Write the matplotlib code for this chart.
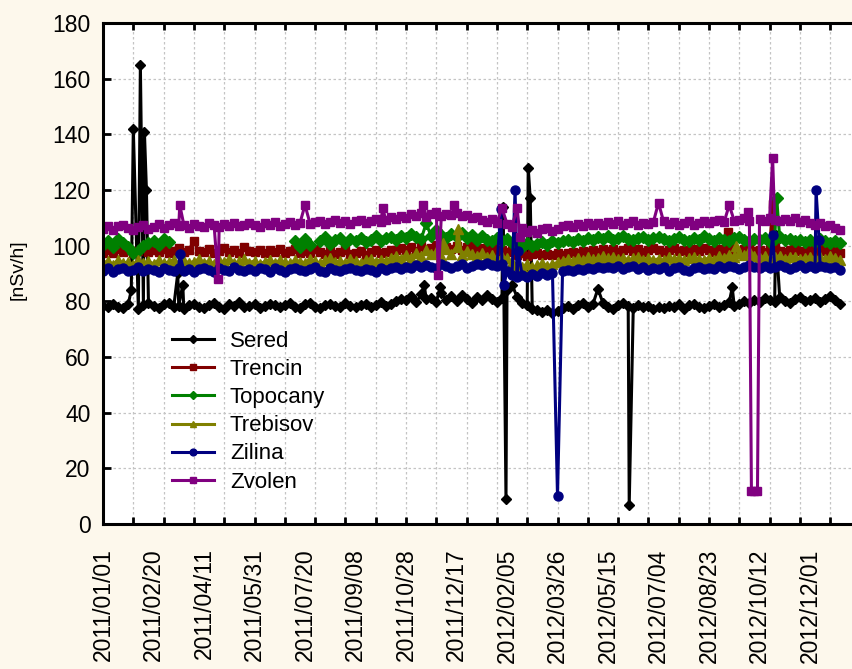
import numpy as np
import matplotlib
matplotlib.use("Agg")
import matplotlib.pyplot as plt
from matplotlib.ticker import MultipleLocator, NullFormatter

plt.rcParams['font.family'] = ['Liberation Sans', 'DejaVu Sans']

nan = float('nan')

# Daily dose-rate readings [nSv/h], sampled every 5 days from 2011/01/01 (day 0)
SAMPLE_STEP = 5

SERED = [
    78.5, 77.8, 79.2, 78.0, 77.5, 79.0, 78.3, 77.2, 78.8, 79.5,
    78.2, 77.6, 78.9, 79.4, 77.9, 78.4, 77.3, 78.7, 79.1, 78.0,
    77.5, 78.6, 79.3, 78.1, 77.4, 78.9, 78.2, 79.6, 77.8, 78.5,
    79.0, 77.7, 78.3, 79.2, 78.6, 77.9, 78.8, 79.4, 78.1, 77.6,
    78.9, 79.3, 78.0, 77.5, 78.7, 79.1, 78.4, 77.8, 79.5, 78.2,
    77.9, 78.8, 79.2, 78.1, 78.6, 79.7, 78.3, 79.0, 80.2, 81.0,
    80.4, 81.8, 79.6, 82.5, 80.8, 81.3, 79.9, 83.0, 80.6, 81.9,
    80.2, 82.4, 81.0, 79.5, 81.6, 80.3, 82.1, 80.7, 79.8, 81.2,
    84.0, 86.0, 81.5, 79.5, 78.6, 77.4, 77.0, 76.3, 76.8, 75.9,
    76.7, 77.5, 78.4, 77.1, 78.6, 79.3, 77.8, 78.9, 78.2, 79.4,
    78.0, 77.3, 78.7, 79.5, 78.3, 77.6, 78.8, 77.9, 78.4, 77.2,
    78.1, 77.5, 78.3, 77.8, 78.9, 77.4, 78.6, 79.1, 78.0, 77.7,
    78.5, 79.2, 78.1, 78.8, 79.6, 78.3, 79.0, 80.1, 79.4, 80.5,
    79.8, 81.2, 80.4, 79.6, 81.5, 80.2, 79.3, 80.9, 81.7, 80.0,
    80.6, 81.3, 79.8, 80.9, 82.0, 80.4, 79.2,
]
SERED_EXTRA_DAYS = [28, 30, 37, 41, 43, 74, 79, 318, 334, 396, 399, 421, 423, 490, 521, 623, 666]
SERED_EXTRA_VALS = [84, 142, 165, 141, 120, 90, 86, 86, 85, 114, 9, 128, 117, 84.5, 7, 85, 104]

TRENCIN = [
    97.5, 98.3, 97.2, 98.8, 97.9, 98.5, 97.3, 98.1, 99.0, 97.6,
    98.4, 97.8, 98.9, 97.4, 98.2, 99.3, 97.7, 98.6, 101.5, 98.0,
    97.6, 98.7, 97.3, 98.2, 99.1, 97.8, 98.4, 97.5, 99.6, 98.1,
    97.9, 98.6, 97.4, 98.3, 97.7, 98.9, 97.2, 98.0, 98.7, 97.5,
    98.2, 97.3, 98.8, 97.6, 97.1, 98.4, 96.9, 97.8, 98.3, 97.0,
    97.4, 98.1, 96.8, 97.7, 98.5, 97.2, 97.9, 98.6, 98.3, 99.2,
    98.6, 99.5, 98.2, 99.9, 98.8, 99.3, 100.4, 98.7, 99.6, 98.9,
    99.8, 98.5, 99.4, 100.2, 98.8, 99.0, 98.3, 99.1, 97.9, 98.6,
    97.8, 98.4, 96.8, 97.3, 96.2, 96.9, 97.4, 96.5, 97.1, 96.8,
    97.2, 96.6, 97.5, 97.9, 97.3, 98.0, 97.6, 98.4, 97.8, 98.7,
    98.2, 98.9, 97.9, 98.5, 99.2, 98.1, 98.7, 97.8, 98.4, 99.0,
    98.3, 97.7, 98.6, 99.1, 98.0, 98.5, 97.9, 98.8, 98.2, 99.3,
    98.4, 97.8, 98.9, 98.1, 99.0, 98.3, 97.6, 98.7, 99.2, 98.0,
    98.5, 97.9, 98.8, 99.4, 98.2, 97.7, 98.6, 99.0, 98.1, 97.8,
    98.4, 97.6, 98.9, 98.0, 97.5, 98.3, 97.4,
]
TRENCIN_EXTRA_DAYS = [619, 663]
TRENCIN_EXTRA_VALS = [105, 115]

TOPOCANY = [
    100.2, 101.5, 99.6, 102.3, 100.8, 99.4, 97.5, 98.2, 99.8, 100.9,
    101.6, 100.3, 102.5, 101.2, nan, nan, nan, nan, nan, nan,
    nan, nan, nan, nan, nan, nan, nan, nan, nan, nan,
    nan, nan, nan, nan, nan, nan, nan, nan, 101.8, 99.6,
    102.5, 100.3, nan, 101.7, 103.0, 100.6, 101.9, 102.7, 101.1, 102.4,
    101.5, 102.9, 101.3, 102.2, 103.4, 101.8, 102.6, 103.1, 102.0, 103.5,
    102.8, 104.1, 103.0, 102.4, 104.6, 103.3, 105.8, 103.9, 102.7, 104.2,
    103.1, 104.5, 102.6, 103.8, 102.2, 103.4, 102.0, 101.5, 102.7, 101.8,
    102.3, 101.0, 100.4, 99.6, 100.8, 99.9, 100.6, 101.2, 100.2, 101.5,
    100.8, 101.6, 102.0, 101.3, 102.4, 101.8, 102.9, 102.2, 103.1, 102.5,
    103.3, 102.1, 102.8, 103.6, 102.4, 101.9, 102.7, 103.2, 102.0, 102.6,
    103.0, 102.3, 101.7, 102.5, 103.1, 102.2, 101.6, 102.8, 102.1, 103.3,
    102.4, 101.8, 102.9, 102.2, 101.5, 102.6, 103.0, 102.1, 101.7, 102.5,
    102.0, 102.7, 101.4, 102.3, 103.0, 101.9, 102.5, 101.6, 102.2, 101.3,
    101.9, 101.2, 102.4, 101.5, 100.8, 101.7, 101.0,
]
TOPOCANY_EXTRA_DAYS = [320, 667]
TOPOCANY_EXTRA_VALS = [108, 117]

TREBISOV = [
    93.8, 94.5, 93.2, 94.9, 93.6, 94.2, 93.0, 94.7, 93.9, 94.4,
    93.5, 94.8, 93.7, 94.1, 95.0, 93.4, 94.6, 93.9, 94.3, 95.2,
    93.8, 94.5, 93.3, 94.9, 94.0, 95.3, 93.7, 94.4, 95.1, 93.9,
    94.6, 93.5, 94.2, 95.0, 93.8, 94.7, 94.1, 93.6, 94.9, 94.3,
    93.9, 95.2, 94.4, 93.7, 94.8, 95.4, 94.0, 94.6, 93.8, 95.1,
    94.5, 93.9, 94.8, 95.3, 94.2, 95.0, 94.6, 95.5, 96.4, 95.3,
    96.8, 95.6, 97.5, 96.2, 98.4, 96.9, 97.8, 96.3, 98.9, 97.1,
    99.5, 96.8, 98.1, 97.0, 96.2, 97.4, 95.8, 96.5, 95.3, 96.0,
    95.4, 94.2, 93.1, 92.5, 93.4, 92.2, 92.9, 93.6, 92.7, 93.3,
    94.0, 94.6, 95.2, 94.5, 95.6, 94.9, 95.8, 95.1, 95.5, 96.2,
    95.4, 96.0, 95.2, 95.7, 94.9, 95.5, 96.1, 95.0, 95.6, 94.8,
    95.3, 94.7, 95.9, 95.1, 95.6, 94.9, 95.4, 96.0, 95.2, 94.8,
    95.7, 95.0, 96.3, 95.5, 96.8, 95.9, 97.4, 96.5, 98.0, 96.2,
    95.6, 96.3, 95.1, 95.8, 96.4, 95.3, 95.9, 96.1, 95.2, 95.7,
    96.0, 95.4, 95.9, 95.2, 96.3, 95.6, 94.8,
]
TREBISOV_EXTRA_DAYS = [337, 351, 627]
TREBISOV_EXTRA_VALS = [101, 106, 100]

ZILINA = [
    91.0, 91.8, 90.6, 91.5, 92.0, 90.8, 91.3, 92.2, 90.9, 91.6,
    91.2, 90.5, 91.9, 91.4, 90.8, 92.1, 91.0, 91.7, 90.7, 91.5,
    92.0, 91.1, 90.6, 91.8, 91.3, 90.9, 92.3, 91.4, 90.8, 91.7,
    91.0, 92.1, 91.5, 90.7, 91.9, 91.2, 90.6, 91.6, 92.0, 91.1,
    90.8, 91.5, 92.2, 91.0, 90.7, 91.8, 91.3, 90.9, 91.6, 92.0,
    91.2, 90.8, 91.7, 91.4, 90.6, 91.9, 91.1, 91.8, 92.3, 91.6,
    92.4, 91.8, 92.9, 92.2, 93.1, 92.5, 91.9, 93.3, 92.6, 92.0,
    92.8, 93.4, 92.1, 92.7, 93.5, 92.9, 93.8, 93.1, 92.6, 93.3,
    90.8, 89.6, 88.7, 89.4, 88.9, 89.8, 89.2, 90.0, 89.5, 90.3,
    89.9, 90.8, 91.4, 90.9, 91.7, 91.2, 92.0, 91.5, 92.3, 91.8,
    92.5, 91.9, 92.7, 91.6, 92.2, 92.8, 91.7, 92.4, 91.3, 92.0,
    91.6, 92.3, 91.0, 91.8, 92.5, 91.4, 90.8, 91.9, 92.2, 91.5,
    92.1, 91.7, 92.6, 91.9, 92.8, 92.2, 91.6, 92.5, 93.0, 92.3,
    92.0, 92.7, 91.8, 92.4, 93.1, 92.2, 91.7, 92.5, 92.9, 92.1,
    92.6, 92.0, 92.8, 92.3, 91.9, 92.5, 91.4,
]
ZILINA_EXTRA_DAYS = [76, 394, 397, 408, 411, 450, 663, 706, 709]
ZILINA_EXTRA_VALS = [97, 113, 86, 120, 98, 10, 104, 120, 102]

ZVOLEN = [
    106.0, 107.2, 105.8, 106.9, 107.5, 106.3, 105.6, 106.8, 107.4, 106.1,
    106.7, 107.9, 106.4, 107.3, 108.0, 106.9, 107.6, 106.5, 107.8, 107.1,
    106.8, 108.1, 107.3, 106.6, 107.9, 107.2, 108.3, 106.9, 107.6, 108.2,
    107.4, 106.8, 108.0, 107.5, 108.4, 107.1, 107.8, 108.6, 107.3, 108.1,
    109.2, 107.9, 108.6, 109.0, 107.8, 108.5, 109.3, 108.1, 108.8, 107.9,
    108.7, 109.4, 108.2, 108.9, 109.6, 108.4, 109.1, 110.2, 109.5, 110.8,
    110.1, 111.3, 110.6, 111.8, 110.4, 111.2, 112.0, 110.7, 111.5, 110.9,
    111.7, 110.5, 111.1, 109.8, 110.4, 109.2, 108.6, 109.5, 108.3, 109.0,
    107.9, 106.8, 105.4, 106.2, 104.8, 105.6, 104.5, 105.9, 106.4, 105.2,
    106.1, 106.9, 107.5, 106.7, 107.9, 107.2, 108.1, 107.4, 108.3, 107.6,
    108.4, 107.8, 108.7, 107.5, 108.2, 108.9, 107.6, 108.3, 107.9, 108.6,
    108.0, 108.7, 107.7, 108.4, 107.5, 108.1, 108.8, 107.6, 108.3, 108.9,
    108.2, 108.8, 109.3, 108.5, 109.6, 108.9, 109.4, 110.1, 109.0, 12.0,
    109.5, 108.8, 110.0, 109.3, 108.7, 109.6, 108.9, 109.8, 108.5, 109.2,
    108.0, 107.4, 108.3, 106.9, 107.6, 106.5, 105.8,
]
ZVOLEN_EXTRA_DAYS = [76, 114, 200, 277, 317, 332, 348, 395, 410, 413, 550, 620, 639, 642, 648, 663]
ZVOLEN_EXTRA_VALS = [114.6, 88, 114.6, 113.5, 114.6, 89.5, 114.6, 113.5, 113.5, 103, 115.4, 114.6, 112, 12, 12, 131.5]

STATIONS = ['Sered', 'Trencin', 'Topocany', 'Trebisov', 'Zilina', 'Zvolen']
COLORS = ['#000000', '#800000', '#008000', '#808000', '#000080', '#800080']
MARKERS = ['D', 's', 'D', '^', 'o', 's']
MARKER_SIZES = [5.5, 6.0, 6.0, 6.5, 6.5, 6.0]

X_LABEL_DAYS = [0, 50, 100, 150, 200, 250, 300, 350, 400, 450, 500, 550, 600, 650, 700]
X_LABELS = ['2011/01/01', '2011/02/20', '2011/04/11', '2011/05/31', '2011/07/20',
            '2011/09/08', '2011/10/28', '2011/12/17', '2012/02/05', '2012/03/26',
            '2012/05/15', '2012/07/04', '2012/08/23', '2012/10/12', '2012/12/01']
Y_TICKS = [0, 20, 40, 60, 80, 100, 120, 140, 160, 180]


def merge(base, extra_days, extra_vals):
    days = list(range(0, SAMPLE_STEP * len(base), SAMPLE_STEP))
    pts = dict(zip(days, base))
    pts.update(zip(extra_days, extra_vals))
    d = sorted(pts)
    return np.array(d, dtype=float), np.array([pts[k] for k in d], dtype=float)


series = [
    merge(SERED, SERED_EXTRA_DAYS, SERED_EXTRA_VALS),
    merge(TRENCIN, TRENCIN_EXTRA_DAYS, TRENCIN_EXTRA_VALS),
    merge(TOPOCANY, TOPOCANY_EXTRA_DAYS, TOPOCANY_EXTRA_VALS),
    merge(TREBISOV, TREBISOV_EXTRA_DAYS, TREBISOV_EXTRA_VALS),
    merge(ZILINA, ZILINA_EXTRA_DAYS, ZILINA_EXTRA_VALS),
    merge(ZVOLEN, ZVOLEN_EXTRA_DAYS, ZVOLEN_EXTRA_VALS),
]

W, H = 853, 669
fig = plt.figure(figsize=(W / 100, H / 100), dpi=100, facecolor='#fdf8ec')
ax = fig.add_axes([103 / W, 1 - 524 / H, 750 / W, (524 - 23) / H])
ax.set_facecolor('white')

for (x, y), name, c, m, ms in zip(series, STATIONS, COLORS, MARKERS, MARKER_SIZES):
    ax.plot(x, y, color=c, lw=2.2, marker=m, ms=ms, mec=c, mfc=c, label=name)

ax.set_xlim(0, 750 / 1.01)
ax.set_ylim(0, 180)

# 30-day grid with tick marks on both horizontal edges
ax.xaxis.set_major_locator(MultipleLocator(30))
ax.xaxis.set_major_formatter(NullFormatter())
ax.tick_params(axis='x', which='major', direction='in', length=5, width=2,
               top=True, bottom=True)

# date labels every 50 days
for d, lab in zip(X_LABEL_DAYS, X_LABELS):
    ax.annotate(lab, xy=(d, 0), xycoords=('data', 'axes fraction'),
                xytext=(0, -17.5), textcoords='offset points',
                rotation=90, ha='center', va='top', fontsize=16.5)

ax.set_yticks(Y_TICKS)
ax.tick_params(axis='y', direction='in', length=6, width=2, labelsize=16.5, pad=9)

ax.grid(True, which='major', color='#c4c4c4', linestyle=(0, (2, 2)), lw=0.9)
ax.set_axisbelow(True)

for side in ['left', 'top', 'bottom']:
    ax.spines[side].set_linewidth(2.2)
ax.spines['right'].set_visible(False)

fig.text(18 / W, 1 - 270 / H, '[nSv/h]', rotation=90, fontsize=14,
         ha='center', va='center')

leg = ax.legend(loc='upper left', bbox_to_anchor=(172 / W, 1 - 331 / H),
                bbox_transform=fig.transFigure, frameon=False, fontsize=16,
                handlelength=1.9, handletextpad=0.7, labelspacing=0.32,
                borderpad=0, borderaxespad=0, markerscale=0.75)

fig.savefig('out.png', dpi=100, facecolor=fig.get_facecolor())
